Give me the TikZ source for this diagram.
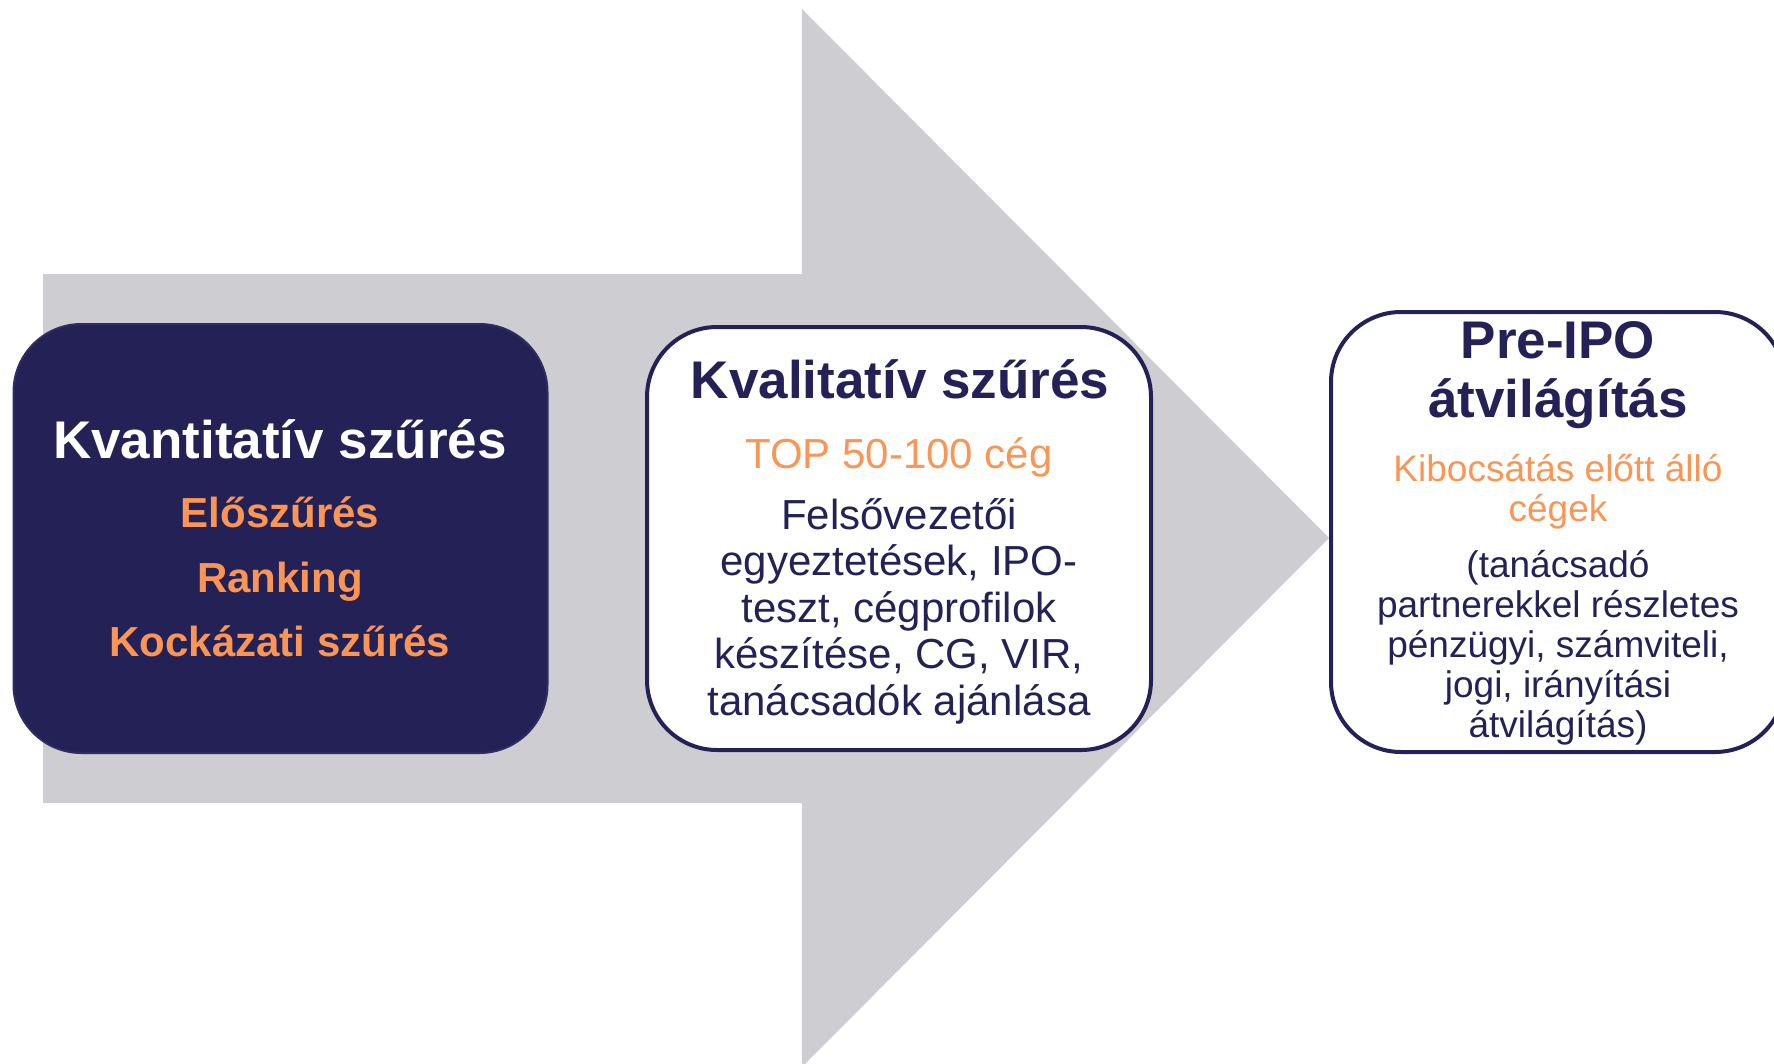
\documentclass[tikz,border=0pt]{standalone}
\usepackage{fontspec}
\setmainfont{Liberation Sans}
\definecolor{navy}{RGB}{36,33,87}
\definecolor{accent}{RGB}{250,150,85}
\definecolor{arrowgray}{RGB}{205,205,210}
\begin{document}
\begin{tikzpicture}[x=1pt,y=-1pt,
  darkbox/.style={draw=navy!95!white,line width=2pt,fill=navy,rounded corners=68pt,inner sep=0pt},
  stage/.style={draw=navy,line width=4pt,fill=white,rounded corners=70pt,inner sep=0pt},
  bigtitle/.style={anchor=base,inner sep=0pt,font=\fontsize{53}{59}\selectfont\bfseries,text=navy},
  boldorange/.style={anchor=base,inner sep=0pt,font=\fontsize{42}{46}\selectfont\bfseries,text=accent},
  suborange/.style={anchor=base,inner sep=0pt,font=\fontsize{42}{46}\selectfont,text=accent},
  bodytext/.style={anchor=base,inner sep=0pt,font=\fontsize{42}{46}\selectfont,text=navy},
  smallorange/.style={anchor=base,inner sep=0pt,font=\fontsize{37}{41}\selectfont,text=accent},
  smallbody/.style={anchor=base,inner sep=0pt,font=\fontsize{37}{41}\selectfont,text=navy}]
\path[use as bounding box] (0,0) rectangle (1774,1063);
\begin{scope}
\clip (0,0) rectangle (1774,1063);
% big arrow
\fill[arrowgray] (43,274) -- (802,274) -- (802,9) -- (1329,538) -- (802,1067) -- (802,803) -- (43,803) -- cycle;
% box 1
\node[darkbox,minimum width=534pt,minimum height=429pt] (box1) at (280.5,538.5) {};
\node[bigtitle,text=white] (t1) at (280,458) {Kvantitatív szűrés};
\node[boldorange] (t1a) at (280,527) {Előszűrés};
\node[boldorange] (t1b) at (280,592) {Ranking};
\node[boldorange] (t1c) at (280,656) {Kockázati szűrés};
% box 2
\node[stage,minimum width=504pt,minimum height=423pt] (box2) at (899,538.5) {};
\node[bigtitle] (t2) at (900,398) {Kvalitatív szűrés};
\node[suborange] (t2s) at (899,468) {TOP 50-100 cég};
\node[bodytext] (t2a) at (899,529) {Felsővezetői};
\node[bodytext] (t2b) at (899,575.5) {egyeztetések, IPO-};
\node[bodytext] (t2c) at (899,622) {teszt, cégprofilok};
\node[bodytext] (t2d) at (899,668.5) {készítése, CG, VIR,};
\node[bodytext] (t2e) at (899,715) {tanácsadók ajánlása};
% box 3
\node[stage,minimum width=454pt,minimum height=440pt] (box3) at (1558,532) {};
\node[bigtitle] (t3) at (1558,358) {Pre-IPO};
\node[bigtitle] (t3b) at (1558,417) {átvilágítás};
\node[smallorange] (t3s) at (1558,481) {Kibocsátás előtt álló};
\node[smallorange] (t3s2) at (1558,521) {cégek};
\node[smallbody] (t3a) at (1558,577) {(tanácsadó};
\node[smallbody] (t3c) at (1558,617) {partnerekkel részletes};
\node[smallbody] (t3d) at (1558,657) {pénzügyi, számviteli,};
\node[smallbody] (t3e) at (1558,697) {jogi, irányítási};
\node[smallbody] (t3f) at (1558,737) {átvilágítás)};
\end{scope}
\end{tikzpicture}
\end{document}
